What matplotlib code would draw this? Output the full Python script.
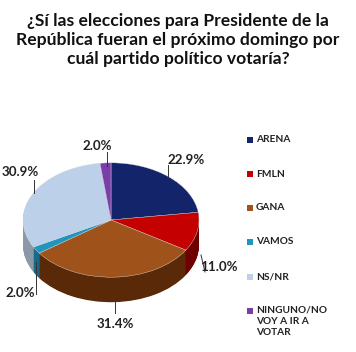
import matplotlib
matplotlib.use("Agg")
import matplotlib.pyplot as plt
from matplotlib.patches import Rectangle

categories = ["ARENA", "FMLN", "GANA", "VAMOS", "NS/NR", "NINGUNO/NO\nVOY A IR A\nVOTAR"]
values = [22.9, 11.0, 31.4, 2.0, 30.9, 2.0]
value_labels = ["22.9%", "11.0%", "31.4%", "2.0%", "30.9%", "2.0%"]
title = "¿Sí las elecciones para Presidente de la\nRepública fueran el próximo domingo por\ncuál partido político votaría?"

top_colors = ["#13246B", "#C40000", "#A0521B", "#2096BE", "#BCD0EA", "#7A3EA8"]
side_colors = ["#0A1440", "#6E0000", "#5A2A08", "#146C8A", "#8C98A8", "#4A2068"]

W, H = 356, 352
fig = plt.figure(figsize=(W / 100, H / 100), dpi=100)
fig.patch.set_facecolor("white")
ax = fig.add_axes([0, 0, 1, 1])

ysq = 0.65
cx, cy = 111, (H - 220) / ysq
r = 88
depth = 25 / ysq

n_layers = 40
for i in range(n_layers, 0, -1):
    d = depth * i / n_layers
    ax.pie(values, colors=side_colors, startangle=90, counterclock=False,
           radius=r, center=(cx, cy - d), wedgeprops=dict(linewidth=0),
           frame=True)
ax.pie(values, colors=top_colors, startangle=90, counterclock=False,
       radius=r, center=(cx, cy), wedgeprops=dict(linewidth=0.3, edgecolor="#dddddd"),
       frame=True)
ax.set_aspect("auto")
ax.set_xlim(0, W)
ax.set_ylim(0, H / ysq)
ax.axis("off")

# Value labels with leader lines (pixel positions from top)
label_pos = [(186, 160), (219, 267), (115, 324), (20, 293), (20, 172), (97, 146)]
line_pos = [((168, 176), (168, 165)), ((201, 255), (205, 272)), ((115, 302), (115, 313)),
            ((36, 262), (36, 294)), ((34, 193), (34, 180)), ((107, 166), (107, 152))]
for txt, (lx, ly), ((x0, y0), (x1, y1)) in zip(value_labels, label_pos, line_pos):
    fig.text(lx / W, 1 - ly / H, txt, ha="center", va="center", fontsize=9.6,
             fontweight="bold", family="Lato", color="#222222")
    fig.add_artist(plt.Line2D([x0 / W, x1 / W], [1 - y0 / H, 1 - y1 / H],
                              color="#333333", lw=0.7, transform=fig.transFigure))

# Legend
leg_y = [140, 174, 208, 242, 277, 311]
for cat, col, ly in zip(categories, top_colors, leg_y):
    fig.add_artist(Rectangle(((247) / W, 1 - (ly + 3) / H), 6 / W, 6 / H,
                             facecolor=col, edgecolor="none", transform=fig.transFigure))
    multi = "\n" in cat
    fig.text(256 / W, 1 - (ly - 5.5 if multi else ly) / H, cat, ha="left",
             va="top" if multi else "center",
             fontsize=7.3, fontweight="bold", family="Lato", color="#222222",
             linespacing=1.3)

fig.text(0.5, 1 - 40 / H, title, ha="center", va="center", fontsize=12.6,
         fontweight="bold", family="Lato", color="#111111", linespacing=1.2)

fig.savefig("out.png", dpi=100, facecolor="white")
